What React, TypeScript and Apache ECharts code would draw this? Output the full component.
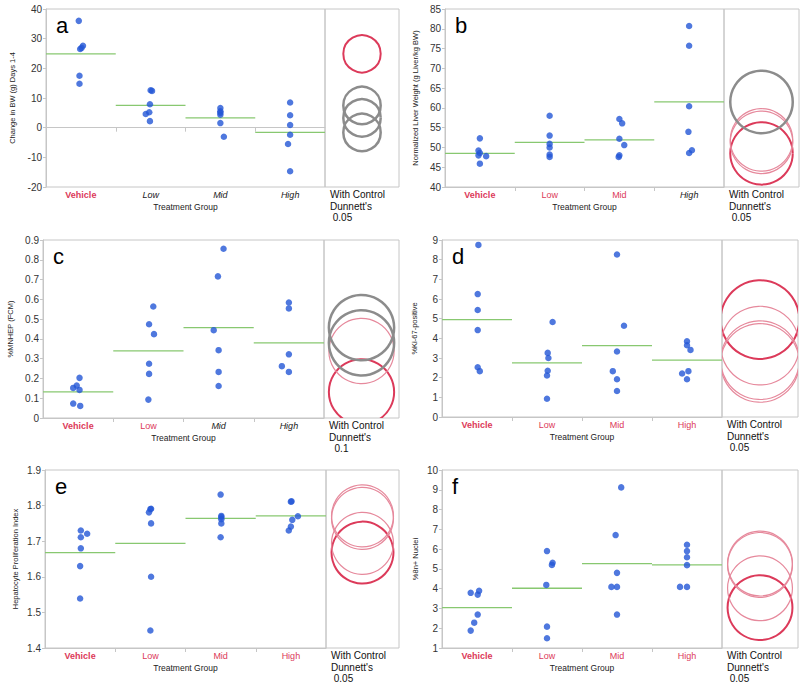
import React, { useEffect, useRef } from "react";
import * as echarts from "echarts";

const groups = ["Vehicle", "Low", "Mid", "High"];

// Panel a: Change in BW
const aValues = [
  [36.0, 26.5, 27.6, 26.9, 17.5, 14.8],
  [12.6, 12.4, 7.9, 5.2, 4.6, 2.2],
  [6.6, 5.5, 5.0, 4.35, 1.55, -3.05],
  [8.5, 4.2, 0.9, -2.4, -5.5, -14.7],
];
const aJitter = [
  [-0.03, -0.01, 0.03, 0.01, -0.02, -0.02],
  [0, 0.02, -0.01, -0.02, -0.07, -0.01],
  [0, 0, 0, 0, 0, 0.05],
  [0, 0, 0, 0, -0.03, 0],
];
const aMeans = [24.9, 7.5, 3.3, -1.6];
const aRadius = 6.3;
const aTicks = [-20, -10, 0, 10, 20, 30, 40];
const aStatus = ["control", "diff", "diff", "diff"];

// Panel b: Normalized liver weight
const bValues = [
  [52.3, 49.2, 48.6, 48.0, 47.8, 45.9],
  [58.0, 53.0, 50.9, 50.0, 48.2, 47.6],
  [57.2, 56.1, 52.2, 50.6, 47.6, 48.0],
  [80.7, 75.7, 60.4, 53.95, 48.6, 49.3],
];
const bJitter = [
  [0, -0.02, 0, -0.02, 0.09, 0],
  [0, 0, 0, 0, 0, 0],
  [0, 0.04, 0, 0.07, -0.01, 0],
  [0, 0, 0, -0.01, 0, 0.04],
];
const bMeans = [48.5, 51.3, 51.9, 61.5];
const bRadius = 7.9;
const bTicks = [40, 45, 50, 55, 60, 65, 70, 75, 80, 85];
const bStatus = ["control", "same", "same", "diff"];

// Panel c: %MNHEP
const cValues = [
  [0.203, 0.164, 0.152, 0.142, 0.073, 0.061],
  [0.564, 0.474, 0.424, 0.274, 0.223, 0.093],
  [0.856, 0.716, 0.444, 0.343, 0.233, 0.162],
  [0.584, 0.554, 0.322, 0.262, 0.233],
];
const cJitter = [
  [0.02, -0.02, -0.07, 0.02, -0.07, 0.03],
  [0.07, 0.01, 0.08, 0.01, 0.01, 0],
  [0.07, -0.01, -0.07, 0, 0, 0],
  [0, 0, 0, -0.1, 0],
];
const cMeans = [0.132, 0.339, 0.457, 0.38];
const cRadius = 0.165;
const cTicks = [0, 0.1, 0.2, 0.3, 0.4, 0.5, 0.6, 0.7, 0.8, 0.9];
const cStatus = ["control", "same", "diff", "diff"];

// Panel d: %Ki-67-positive
const dValues = [
  [8.75, 6.25, 5.44, 4.42, 2.53, 2.33],
  [4.83, 3.26, 3.0, 2.35, 2.11, 0.93],
  [8.26, 4.64, 3.33, 2.33, 1.92, 1.32],
  [3.85, 3.65, 3.41, 2.21, 2.33, 1.92],
];
const dJitter = [
  [0.02, 0.01, 0.01, 0.01, 0.01, 0.04],
  [0.08, 0.01, 0.02, 0.01, 0, 0],
  [0, 0.1, 0, -0.06, 0, 0],
  [0, 0, 0.05, -0.07, 0.02, 0],
];
const dMeans = [4.95, 2.75, 3.63, 2.89];
const dRadius = 2.0;
const dTicks = [0, 1, 2, 3, 4, 5, 6, 7, 8, 9];
const dStatus = ["control", "same", "same", "same"];

// Panel e: Hepatocyte proliferation index
const eValues = [
  [1.73, 1.711, 1.721, 1.68, 1.63, 1.539],
  [1.781, 1.791, 1.79, 1.75, 1.6, 1.449],
  [1.831, 1.771, 1.768, 1.762, 1.75, 1.711],
  [1.811, 1.812, 1.76, 1.77, 1.741, 1.73],
];
const eJitter = [
  [0.01, 0.01, 0.1, 0.01, 0, 0],
  [-0.02, 0.01, 0, 0.01, 0.01, 0],
  [0, 0.01, 0.01, 0.01, 0.01, 0],
  [0, 0.01, 0.02, 0.1, 0, -0.03],
];
const eMeans = [1.668, 1.694, 1.764, 1.771];
const eRadius = 0.087;
const eTicks = [1.4, 1.5, 1.6, 1.7, 1.8, 1.9];
const eStatus = ["control", "same", "same", "same"];

// Panel f: %8n+ nuclei
const fValues = [
  [3.79, 3.89, 3.7, 2.69, 2.28, 1.88],
  [5.9, 5.31, 5.2, 4.19, 2.08, 1.49],
  [9.12, 6.71, 4.8, 4.09, 4.09, 2.69],
  [6.22, 5.9, 5.59, 5.19, 4.09, 4.09],
];
const fJitter = [
  [-0.09, 0.03, 0.01, 0.01, -0.04, -0.09],
  [0, 0.08, 0.07, -0.01, 0, 0],
  [0.06, -0.02, 0, -0.08, 0, 0],
  [0, 0, 0, 0, -0.1, 0],
];
const fMeans = [3.04, 4.02, 5.27, 5.2];
const fRadius = 1.64;
const fTicks = [1, 2, 3, 4, 5, 6, 7, 8, 9, 10];
const fStatus = ["control", "same", "same", "same"];

const panels = [
  { letter: "a", name: "Change in BW (g) Days 1-4", values: aValues, jitter: aJitter, means: aMeans, radius: aRadius, ticks: aTicks, status: aStatus, interval: 10, alpha: " 0.05",
    box: { left: 46, top: 9, width: 279, height: 178, cw: 74 }, nameGap: 30 },
  { letter: "b", name: "Normalized Liver Weight (g Liver/kg BW)", values: bValues, jitter: bJitter, means: bMeans, radius: bRadius, ticks: bTicks, status: bStatus, interval: 5, alpha: " 0.05",
    box: { left: 445, top: 9, width: 279, height: 178, cw: 75 }, nameGap: 26 },
  { letter: "c", name: "%MNHEP (FCM)", values: cValues, jitter: cJitter, means: cMeans, radius: cRadius, ticks: cTicks, status: cStatus, interval: 0.1, alpha: "  0.1",
    box: { left: 43, top: 240, width: 281, height: 178, cw: 75 }, nameGap: 29 },
  { letter: "d", name: "%Ki-67-positive", values: dValues, jitter: dJitter, means: dMeans, radius: dRadius, ticks: dTicks, status: dStatus, interval: 1, alpha: " 0.05",
    box: { left: 442, top: 240, width: 280, height: 177, cw: 76 }, nameGap: 24 },
  { letter: "e", name: "Hepatocyte Proliferation Index", values: eValues, jitter: eJitter, means: eMeans, radius: eRadius, ticks: eTicks, status: eStatus, interval: 0.1, alpha: " 0.05",
    box: { left: 45, top: 470, width: 281, height: 178, cw: 73 }, nameGap: 26 },
  { letter: "f", name: "%8n+ Nuclei", values: fValues, jitter: fJitter, means: fMeans, radius: fRadius, ticks: fTicks, status: fStatus, interval: 1, alpha: " 0.05",
    box: { left: 442, top: 470, width: 280, height: 178, cw: 76 }, nameGap: 23 },
];

const RED = "#dc3a5a";
const PINK = "#e6899c";
const GRAY = "#8c8c8c";
const GREEN = "#88c870";
const BLUE = "#2356d6";
const FRAME = "#c6c6c6";
const FONT = "Liberation Sans, Arial, sans-serif";

function buildOption() {
  const grid: any[] = [];
  const xAxis: any[] = [];
  const yAxis: any[] = [];
  const series: any[] = [];
  const graphic: any[] = [];

  panels.forEach((p, k) => {
    const b = p.box;
    const mainIdx = k * 2;
    const compIdx = k * 2 + 1;
    const ymin = p.ticks[0];
    const ymax = p.ticks[p.ticks.length - 1];

    grid.push({ left: b.left, top: b.top, width: b.width, height: b.height, show: true, borderColor: FRAME, borderWidth: 1 });
    grid.push({ left: b.left + b.width, top: b.top, width: b.cw, height: b.height, show: true, borderColor: FRAME, borderWidth: 1 });

    const status = p.status;
    xAxis.push({
      type: "value", gridIndex: mainIdx, min: 0, max: 4,
      axisLine: { show: true, lineStyle: { color: FRAME } },
      axisTick: { show: true, customValues: [1, 2, 3], length: 4, lineStyle: { color: FRAME } },
      splitLine: { show: false },
      axisLabel: {
        customValues: [0.5, 1.5, 2.5, 3.5],
        margin: 3,
        formatter: (v: number) => {
          const i = Math.floor(v);
          return `{${status[i]}|${groups[i]}}`;
        },
        rich: {
          control: { color: RED, fontWeight: "bold", fontSize: 9, fontFamily: FONT },
          same: { color: RED, fontSize: 9, fontFamily: FONT },
          diff: { color: "#1a1a1a", fontStyle: "italic", fontSize: 9, fontFamily: FONT },
        },
      },
      name: "Treatment Group", nameLocation: "middle", nameGap: 15,
      nameTextStyle: { fontSize: 8.5, color: "#222", fontFamily: FONT },
    });
    xAxis.push({ type: "value", gridIndex: compIdx, min: -1, max: 1, show: false });

    yAxis.push({
      type: "value", gridIndex: mainIdx, min: ymin, max: ymax, interval: p.interval,
      axisLine: { show: true, lineStyle: { color: FRAME } },
      axisTick: { show: true, length: 3, lineStyle: { color: FRAME }, customValues: p.ticks },
      splitLine: { show: false },
      axisLabel: { customValues: p.ticks, fontSize: 10, color: "#333", margin: 4, fontFamily: FONT },
      name: p.name, nameLocation: "middle", nameGap: p.nameGap,
      nameTextStyle: { fontSize: 7.5, color: "#222", fontFamily: FONT },
    });
    yAxis.push({ type: "value", gridIndex: compIdx, min: ymin, max: ymax, show: false });

    // points
    const pts: number[][] = [];
    p.values.forEach((arr, i) => arr.forEach((v, j) => pts.push([i + 0.5 + p.jitter[i][j], v])));
    series.push({
      type: "scatter", xAxisIndex: mainIdx, yAxisIndex: mainIdx, data: pts,
      symbolSize: 6.5, itemStyle: { color: BLUE }, z: 3,
    });

    // mean lines
    series.push({
      type: "custom", xAxisIndex: mainIdx, yAxisIndex: mainIdx,
      data: p.means.map((m, i) => [i, m]),
      renderItem: (params: any, api: any) => {
        const x = api.value(0);
        const y = api.value(1);
        const p1 = api.coord([x, y]);
        const p2 = api.coord([x + 1, y]);
        return { type: "line", shape: { x1: p1[0], y1: p1[1], x2: p2[0], y2: p2[1] }, style: { stroke: GREEN, lineWidth: 1.3 } };
      },
      z: 2,
    });

    // comparison circles
    const radius = p.radius;
    series.push({
      type: "custom", xAxisIndex: compIdx, yAxisIndex: compIdx,
      data: p.means.map((m, i) => [0, m, i]),
      renderItem: (params: any, api: any) => {
        const c = api.coord([0, api.value(1)]);
        const r = api.size([0, radius])[1];
        const st = status[api.value(2)];
        const stroke = st === "control" ? RED : st === "diff" ? GRAY : PINK;
        const lw = st === "control" ? 2 : st === "diff" ? 2.5 : 1.2;
        const cs = params.coordSys;
        return {
          type: "circle",
          shape: { cx: c[0], cy: c[1], r },
          style: { fill: "none", stroke, lineWidth: lw },
          clipPath: { type: "rect", shape: { x: cs.x, y: cs.y, width: cs.width, height: cs.height } },
        };
      },
    });

    graphic.push({
      type: "text", left: b.left + 10, top: b.top + 5,
      style: { text: p.letter, font: `22px ${FONT}`, fill: "#000" },
    });
    graphic.push({
      type: "text", left: b.left + b.width + 5, top: b.top + b.height + 2,
      style: { text: `With Control\nDunnett's\n${p.alpha}`, font: `10px ${FONT}`, lineHeight: 11.5, fill: "#111" },
    });
  });

  return {
    animation: false,
    backgroundColor: "#fff",
    textStyle: { fontFamily: FONT },
    grid, xAxis, yAxis, series, graphic,
  };
}

export default function App() {
  const ref = useRef<HTMLDivElement>(null);
  useEffect(() => {
    if (!ref.current) return;
    const chart = echarts.init(ref.current, undefined, { renderer: "svg" });
    chart.setOption(buildOption() as any);
    return () => chart.dispose();
  }, []);
  return <div ref={ref} style={{ position: "absolute", left: 0, top: 0, width: 800, height: 686 }} />;
}
